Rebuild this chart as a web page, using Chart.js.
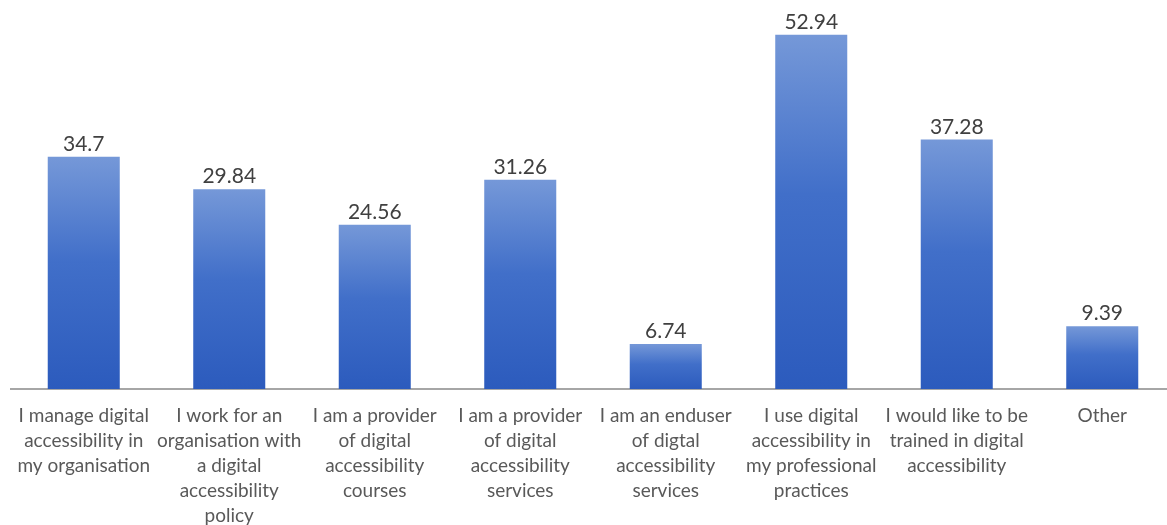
<!DOCTYPE html>
<html>
<head>
<meta charset="utf-8">
<script src="https://cdn.jsdelivr.net/npm/chart.js@4/dist/chart.umd.min.js"></script>
<style>
  html, body { margin: 0; padding: 0; background: #fff; overflow: hidden; }
  #wrap { width: 1176px; height: 525px; }
</style>
</head>
<body>
<div id="wrap"><canvas id="roles" width="1176" height="525"></canvas></div>
<script>
const categories = [
  ['I manage digital', 'accessibility in', 'my organisation'],
  ['I work for an', 'organisation with', 'a digital', 'accessibility', 'policy'],
  ['I am a provider', 'of digital', 'accessibility', 'courses'],
  ['I am a provider', 'of digital', 'accessibility', 'services'],
  ['I am an enduser', 'of digtal', 'accessibility', 'services'],
  ['I use digital', 'accessibility in', 'my professional', 'practices'],
  ['I would like to be', 'trained in digital', 'accessibility'],
  ['Other']
];
const shares = [34.7, 29.84, 24.56, 31.26, 6.74, 52.94, 37.28, 9.39];

// each bar gets its own vertical gradient, light at the top
const barFill = (ctx) => {
  const chart = ctx.chart;
  const area = chart.chartArea;
  if (!area || ctx.type !== 'data') return '#4472c4';
  const y = chart.scales.y;
  const top = y.getPixelForValue(ctx.raw);
  const bottom = y.getPixelForValue(0);
  const g = chart.ctx.createLinearGradient(0, top, 0, bottom);
  g.addColorStop(0, '#7598d8');
  g.addColorStop(0.45, '#416fc9');
  g.addColorStop(1, '#2c5bbd');
  return g;
};

const valueLabels = {
  id: 'valueLabels',
  afterDatasetsDraw(chart) {
    const c = chart.ctx;
    const meta = chart.getDatasetMeta(0);
    c.save();
    c.font = '21px Lato';
    c.fillStyle = '#404040';
    c.textAlign = 'center';
    c.textBaseline = 'alphabetic';
    meta.data.forEach((bar, i) => {
      c.fillText(String(shares[i]), bar.x, bar.y - 6);
    });
    c.restore();
  }
};

new Chart(document.getElementById('roles'), {
  type: 'bar',
  data: {
    labels: categories,
    datasets: [{
      data: shares,
      backgroundColor: barFill,
      borderWidth: 0,
      barPercentage: 0.495,
      categoryPercentage: 1
    }]
  },
  options: {
    responsive: false,
    animation: false,
    devicePixelRatio: 1,
    layout: { padding: { left: 11, right: 1, top: 21, bottom: 0 } },
    plugins: {
      legend: { display: false },
      tooltip: { enabled: false }
    },
    scales: {
      x: {
        grid: { display: false, drawTicks: false },
        border: { display: true, color: '#a6a6a6', width: 2 },
        ticks: {
          autoSkip: false,
          maxRotation: 0,
          padding: 14,
          color: '#595959',
          font: { family: 'Lato', size: 19, lineHeight: '25px' }
        },
        afterFit: (scale) => { scale.height = 136; }
      },
      y: {
        display: false,
        min: 0,
        max: 55
      }
    }
  },
  plugins: [valueLabels]
});
</script>
</body>
</html>
